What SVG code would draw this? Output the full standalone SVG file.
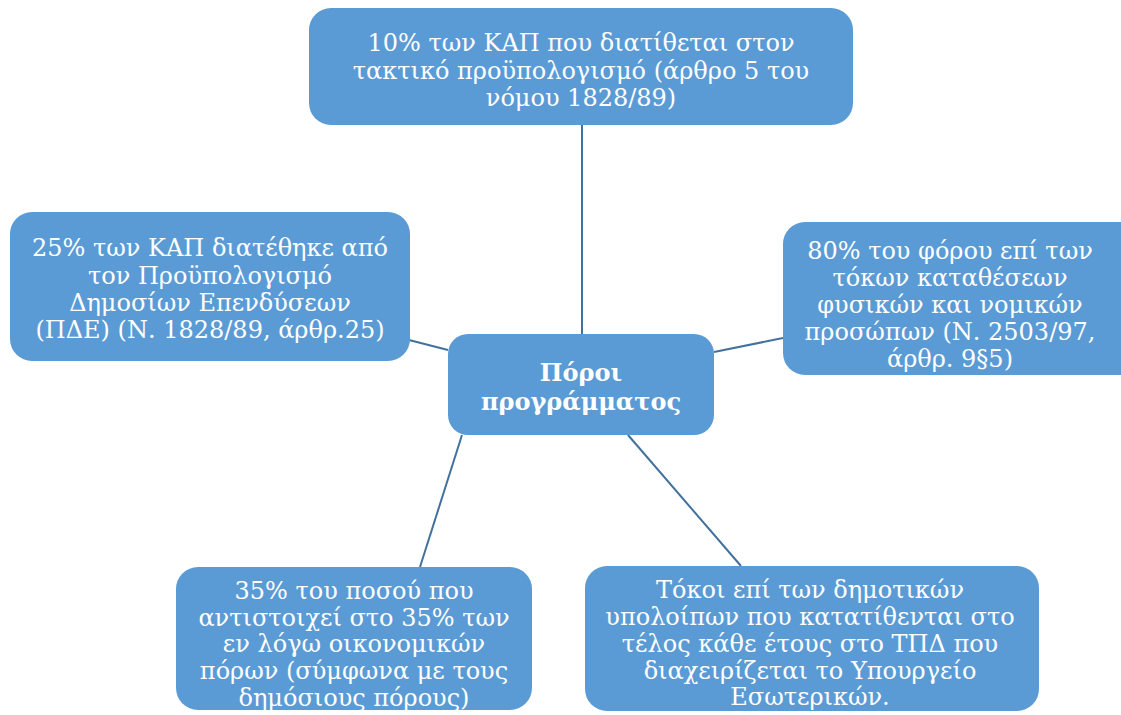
<svg xmlns="http://www.w3.org/2000/svg" width="1121" height="715" viewBox="0 0 1121 715">
<style>
.box{fill:#5B9BD5;}
.t{font-family:"DejaVu Serif",serif;font-size:24px;fill:#ffffff;text-anchor:middle;}
.b{font-weight:bold;}
.c{stroke:#41719C;stroke-width:2;fill:none;}
</style>
<rect width="1121" height="715" fill="#ffffff"/>
<g id="connectors">
<line class="c" x1="582" y1="125" x2="582" y2="334"/>
<line class="c" x1="409" y1="340" x2="448" y2="350"/>
<line class="c" x1="714" y1="352" x2="783" y2="338"/>
<line class="c" x1="462" y1="435" x2="420" y2="567"/>
<line class="c" x1="628" y1="435" x2="741" y2="566"/>
</g>
<g id="top">
<rect class="box" x="309" y="8" width="544" height="117" rx="22"/>
<text class="t" x="581" y="51">10% των ΚΑΠ που διατίθεται στον</text>
<text class="t" x="581" y="79">τακτικό προϋπολογισμό (άρθρο 5 του</text>
<text class="t" x="581" y="106">νόμου 1828/89)</text>
</g>
<g id="left">
<rect class="box" x="10" y="212" width="400" height="149" rx="22"/>
<text class="t" x="210" y="256">25% των ΚΑΠ διατέθηκε από</text>
<text class="t" x="210" y="284">τον Προϋπολογισμό</text>
<text class="t" x="210" y="311">Δημοσίων Επενδύσεων</text>
<text class="t" x="210" y="338">(ΠΔΕ) (Ν. 1828/89, άρθρ.25)</text>
</g>
<g id="right">
<rect class="box" x="783" y="222" width="360" height="153" rx="22"/>
<text class="t" x="950" y="259">80% του φόρου επί των</text>
<text class="t" x="950" y="286">τόκων καταθέσεων</text>
<text class="t" x="950" y="313">φυσικών και νομικών</text>
<text class="t" x="950" y="340">προσώπων (Ν. 2503/97,</text>
<text class="t" x="950" y="367">άρθρ. 9§5)</text>
</g>
<g id="center">
<rect class="box" x="448" y="334" width="266" height="101" rx="20"/>
<text class="t b" x="581" y="381">Πόροι</text>
<text class="t b" x="581" y="410">προγράμματος</text>
</g>
<g id="bottom-left">
<rect class="box" x="176" y="567" width="356" height="143" rx="22"/>
<text class="t" x="354" y="599">35% του ποσού που</text>
<text class="t" x="354" y="626">αντιστοιχεί στο 35% των</text>
<text class="t" x="354" y="652">εν λόγω οικονομικών</text>
<text class="t" x="354" y="679">πόρων (σύμφωνα με τους</text>
<text class="t" x="354" y="706">δημόσιους πόρους)</text>
</g>
<g id="bottom-right">
<rect class="box" x="585" y="566" width="454" height="145" rx="22"/>
<text class="t" x="810" y="598">Τόκοι επί των δημοτικών</text>
<text class="t" x="810" y="625">υπολοίπων που κατατίθενται στο</text>
<text class="t" x="810" y="652">τέλος κάθε έτους στο ΤΠΔ που</text>
<text class="t" x="810" y="679">διαχειρίζεται το Υπουργείο</text>
<text class="t" x="810" y="705">Εσωτερικών.</text>
</g>
</svg>
